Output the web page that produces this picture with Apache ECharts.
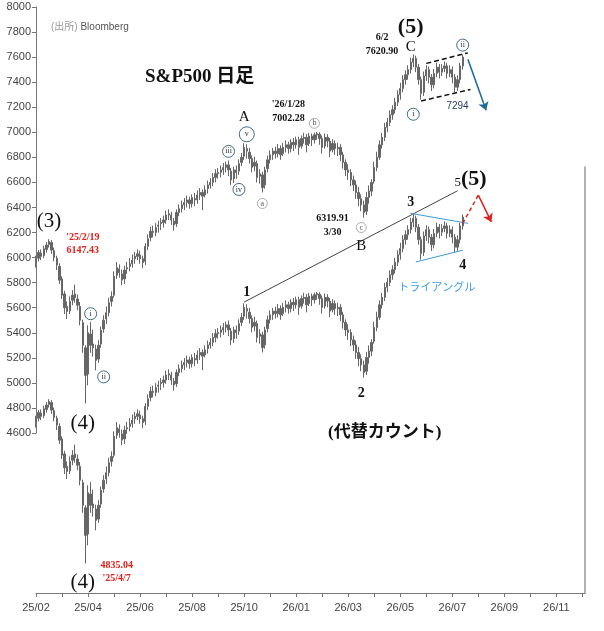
<!DOCTYPE html>
<html>
<head>
<meta charset="utf-8">
<script src="https://cdn.jsdelivr.net/npm/echarts@6/dist/echarts.min.js"></script>
<style>html,body{margin:0;padding:0;background:#fff}#c{width:604px;height:631px}</style>
</head>
<body>
<div id="c"></div>
<script>
// x-axis tick labels (every 2 month-ticks) and slot layout: 10 slots per month tick
const tickLabels = ["25/02","25/04","25/06","25/08","25/10","26/01","26/03","26/05","26/07","26/09","26/11"];
const slotsPerTick = 10;
const slotCount = 212;

// y-axis tick labels
const yTicks = [4600,4800,5000,5200,5400,5600,5800,6000,6200,6400,6600,6800,7000,7200,7400,7600,7800,8000];

// S&P500 candles [open, close, low, high], one per slot
const candles = [
[5960,5990,5920,6015],[5995,6040,5970,6060],[6035,6010,5980,6065],[6015,6070,5995,6095],[6065,6100,6040,6125],
[6105,6130,6080,6147],[6120,6060,6030,6140],[6055,6000,5970,6080],[5995,5940,5900,6015],[5930,5820,5790,5955],
[5830,5700,5670,5850],[5710,5600,5550,5735],[5610,5570,5510,5650],[5575,5650,5550,5690],[5660,5700,5620,5740],
[5710,5680,5640,5785],[5670,5620,5580,5705],[5610,5500,5460,5645],[5480,5300,5240,5505],[5280,5060,4835,5300],
[5070,5400,4980,5460],[5390,5300,5240,5485],[5310,5280,5210,5425],[5270,5180,5100,5305],[5190,5300,5160,5340],
[5310,5420,5280,5450],[5430,5500,5400,5540],[5510,5560,5470,5610],[5560,5640,5530,5680],[5650,5690,5610,5730],
[5700,5850,5680,5890],[5860,5920,5830,5965],[5910,5880,5840,5945],[5870,5820,5780,5905],[5830,5900,5790,5935],
[5910,5920,5870,5965],[5930,5950,5890,5995],[5950,5980,5920,6025],[5990,6010,5950,6045],[6010,6030,5980,6065],
[6020,5990,5950,6055],[5990,5960,5915,6015],[5970,6090,5940,6115],[6090,6150,6060,6185],[6160,6210,6130,6245],
[6210,6200,6160,6255],[6200,6240,6170,6275],[6250,6260,6200,6295],[6270,6280,6220,6315],[6280,6300,6240,6335],
[6300,6340,6270,6375],[6340,6350,6300,6385],[6340,6300,6260,6365],[6290,6260,6215,6315],[6270,6360,6245,6385],
[6360,6390,6330,6425],[6390,6420,6360,6455],[6420,6440,6380,6475],[6440,6460,6400,6495],[6460,6430,6390,6485],
[6430,6480,6400,6505],[6470,6460,6410,6515],[6460,6500,6430,6535],[6500,6520,6460,6555],[6520,6490,6380,6545],
[6500,6540,6480,6575],[6550,6580,6510,6615],[6580,6600,6550,6635],[6600,6640,6570,6675],[6640,6670,6600,6705],
[6670,6680,6630,6715],[6680,6700,6640,6735],[6700,6720,6660,6755],[6720,6740,6680,6765],[6740,6700,6650,6775],
[6690,6620,6580,6715],[6630,6700,6595,6725],[6700,6680,6630,6735],[6690,6750,6660,6785],[6760,6800,6730,6835],
[6810,6880,6780,6912],[6870,6850,6790,6905],[6840,6790,6750,6875],[6790,6720,6680,6815],[6730,6760,6690,6805],
[6750,6640,6600,6775],[6650,6670,6590,6705],[6660,6560,6520,6685],[6580,6700,6550,6725],[6710,6780,6680,6815],
[6780,6820,6750,6855],[6820,6850,6780,6875],[6850,6830,6790,6885],[6830,6870,6800,6905],[6870,6820,6780,6895],
[6830,6880,6810,6915],[6880,6900,6840,6935],[6900,6870,6830,6925],[6870,6920,6840,6945],[6920,6900,6850,6955],
[6900,6940,6870,6965],[6940,6880,6820,6965],[6890,6950,6870,6975],[6950,6960,6910,6995],[6960,6900,6840,6985],
[6910,6970,6890,6995],[6970,6940,6890,6990],[6940,6980,6910,6998],[6980,6990,6940,7002],[6985,6950,6900,7000],
[6950,6880,6830,6975],[6890,6960,6870,6990],[6960,6930,6880,6985],[6930,6850,6800,6955],[6860,6910,6840,6945],
[6910,6870,6820,6935],[6870,6880,6810,6915],[6880,6820,6770,6905],[6820,6760,6710,6845],[6760,6700,6650,6785],
[6700,6680,6620,6745],[6680,6620,6570,6705],[6620,6580,6530,6655],[6580,6520,6470,6615],[6520,6470,6410,6565],
[6470,6420,6370,6505],[6420,6360,6320,6455],[6370,6480,6340,6525],[6480,6530,6430,6575],[6530,6600,6490,6625],
[6610,6720,6590,6765],[6720,6800,6690,6845],[6800,6900,6780,6935],[6900,6960,6870,6995],[6960,7040,6930,7075],
[7040,7080,7000,7115],[7080,7140,7050,7175],[7140,7180,7100,7215],[7180,7240,7150,7275],[7240,7300,7210,7335],
[7300,7350,7260,7395],[7350,7420,7320,7455],[7420,7460,7380,7495],[7460,7500,7420,7535],[7500,7560,7470,7595],
[7560,7590,7520,7621],[7590,7520,7480,7612],[7520,7420,7380,7545],[7420,7310,7260,7445],[7320,7450,7290,7485],
[7450,7500,7410,7535],[7500,7440,7390,7525],[7440,7380,7330,7465],[7380,7470,7350,7505],[7470,7520,7440,7555],
[7520,7480,7430,7545],[7480,7510,7450,7545],[7510,7530,7480,7565],[7530,7470,7430,7555],[7470,7500,7440,7535],
[7500,7440,7390,7525],[7440,7360,7320,7465],[7360,7420,7330,7455],[7420,7530,7390,7555],[7530,7600,7500,7620]
];

const SERIF = "'Liberation Serif','DejaVu Serif','Noto Sans CJK JP',serif";
const SANS = "'Liberation Sans','DejaVu Sans','Noto Sans CJK JP',sans-serif";
const GRAY = '#666666';

const slots = Array.from({length: slotCount}, (_, i) => String(i));

function txt(x, y, text, style) {
  return {coord: [x, y], symbol: 'circle', symbolSize: 1, itemStyle: {color: 'rgba(0,0,0,0)'},
    label: Object.assign({show: true, position: 'inside', formatter: text, color: '#111', fontFamily: SERIF, fontSize: 14, align: 'center'}, style || {})};
}
function circ(x, y, text, size) {
  return {coord: [x, y], symbol: 'circle', symbolSize: size || 12,
    itemStyle: {color: '#fff', borderColor: '#3e6d86', borderWidth: 1},
    label: {show: true, position: 'inside', formatter: text, color: '#333', fontFamily: SERIF, fontSize: 8}};
}
function gcirc(x, y, text) {
  return {coord: [x, y], symbol: 'circle', symbolSize: 10,
    itemStyle: {color: '#fff', borderColor: '#aaa', borderWidth: 1},
    label: {show: true, position: 'inside', formatter: text, color: '#555', fontFamily: SERIF, fontSize: 8}};
}
function seg(a, b, style, arrow) {
  return [{coord: a, symbol: 'none', lineStyle: style}, {coord: b, symbol: arrow ? 'arrow' : 'none', symbolSize: arrow ? 8 : 0, lineStyle: style}];
}

const red = '#e0201b';
const upperMarks = [
  txt(5, 6288, '(3)', {fontSize: 21}),
  txt(18, 6112, "'25/2/19\n6147.43", {fontSize: 10, color: red, fontWeight: 'bold', lineHeight: 13}),
  txt(18, 4672, '(4)', {fontSize: 21}),
  circ(21, 5552, 'i'), circ(26, 5048, 'ii'), circ(74, 6848, 'iii'), circ(78, 6544, 'iv'), circ(81, 6984, 'v', 15),
  txt(80, 7120, 'A', {fontSize: 15}),
  gcirc(87, 6432, 'a'),
  txt(97, 7168, "'26/1/28\n7002.28", {fontSize: 10, lineHeight: 14, fontWeight: 'bold'}),
  gcirc(107, 7072, 'b'),
  txt(114, 6256, '6319.91\n3/30', {fontSize: 10, lineHeight: 14, fontWeight: 'bold'}),
  gcirc(125, 6240, 'c'),
  txt(125, 6088, 'B', {fontSize: 15}),
  txt(133, 7701, '6/2\n7620.90', {fontSize: 10, lineHeight: 14, fontWeight: 'bold'}),
  txt(144, 7840, '(5)', {fontSize: 22, fontWeight: 'bold'}),
  txt(144, 7682, 'C', {fontSize: 15}),
  circ(145, 7144, 'i'), circ(164, 7696, 'ii'),
  txt(162, 7208, '7294', {fontSize: 10, fontFamily: SANS, color: '#1e3a5f'})
];
const upperLines = [
  seg([150, 7550], [166, 7634], {color: '#111', width: 1.5, type: [5, 3]}),
  seg([148, 7250], [167, 7342], {color: '#111', width: 1.5, type: [5, 3]}),
  seg([166, 7582], [173, 7176], {color: '#1d6b98', width: 1.5, type: 'solid'}, true)
];
const lowerMarks = [
  txt(81, 7002, '1', {fontSize: 14, fontWeight: 'bold'}),
  txt(125, 6190, '2', {fontSize: 14, fontWeight: 'bold'}),
  txt(144, 7720, '3', {fontSize: 14, fontWeight: 'bold'}),
  txt(164, 7216, '4', {fontSize: 14, fontWeight: 'bold'}),
  txt(167, 7900, '{s|5}{b|(5)}', {rich: {s: {fontSize: 13, fontFamily: SERIF, color: '#111', padding: [6, 0, 0, 0]}, b: {fontSize: 22, fontWeight: 'bold', fontFamily: SERIF, color: '#111'}}}),
  txt(154, 7032, 'トライアングル', {fontSize: 11, fontFamily: SANS, color: '#3fa0e0'}),
  txt(134, 5880, '(代替カウント)', {fontSize: 17, fontWeight: 'bold'}),
  txt(18, 4680, '(4)', {fontSize: 21}),
  txt(31, 4768, "4835.04\n'25/4/7", {fontSize: 10, color: red, fontWeight: 'bold', lineHeight: 13})
];
const lowerLines = [
  seg([80, 6922], [162, 7810], {color: '#444', width: 1, type: 'solid'}),
  seg([144, 7630], [166, 7550], {color: '#3a9ad9', width: 1, type: 'solid'}),
  seg([146, 7242], [164, 7336], {color: '#3a9ad9', width: 1, type: 'solid'}),
  seg([164, 7550], [170, 7776], {color: red, width: 1.5, type: [4, 3]}),
  seg([170, 7776], [175, 7562], {color: red, width: 1.5, type: 'solid'}, true)
];

const candleStyle = {color: GRAY, color0: GRAY, borderColor: GRAY, borderColor0: GRAY, borderWidth: 1};

const option = {
  animation: false,
  backgroundColor: '#fff',
  title: [
    {text: 'S&P500 日足', left: 140, top: 63, textStyle: {fontFamily: SERIF, fontSize: 19, fontWeight: 'bold', color: '#111'}},
    {text: '{a|(出所)} Bloomberg', left: 46, top: 17, textStyle: {fontFamily: SANS, fontSize: 10, color: '#555', fontWeight: 'normal', rich: {a: {fontFamily: SANS, fontSize: 10, color: '#999'}}}}
  ],
  grid: [
    {left: 36, right: 19, top: 7, height: 426},
    {left: 36, right: 19, top: 167, height: 426}
  ],
  xAxis: [
    {type: 'category', gridIndex: 0, data: slots, boundaryGap: false, show: false},
    {type: 'category', gridIndex: 1, data: slots, boundaryGap: false,
      axisLine: {lineStyle: {color: '#777', width: 1}},
      axisTick: {show: true, length: 4, interval: (i) => i % slotsPerTick === 0, lineStyle: {color: '#777'}},
      axisLabel: {interval: (i) => i % (slotsPerTick * 2) === 0, formatter: (v, i) => tickLabels[i / (slotsPerTick * 2)] || '',
        color: '#444', fontFamily: SANS, fontSize: 11, margin: 9},
      splitLine: {show: false}}
  ],
  yAxis: [
    {type: 'value', gridIndex: 0, min: 4600, max: 8000, interval: 200, position: 'left',
      axisLine: {show: true, lineStyle: {color: '#777'}},
      axisTick: {show: true, length: 4, lineStyle: {color: '#777'}},
      axisLabel: {color: '#444', fontFamily: SANS, fontSize: 11, margin: 5,
        formatter: (v) => yTicks.indexOf(v) >= 0 ? String(v) : ''},
      splitLine: {show: false}},
    {type: 'value', gridIndex: 1, min: 4600, max: 8000, position: 'right',
      axisLine: {show: true, lineStyle: {color: '#999', width: 1.5}},
      axisTick: {show: false}, axisLabel: {show: false}, splitLine: {show: false}}
  ],
  series: [
    {type: 'candlestick', xAxisIndex: 0, yAxisIndex: 0, data: candles, barWidth: 1.8, itemStyle: candleStyle, clip: false, silent: true,
      markPoint: {silent: true, data: upperMarks},
      markLine: {silent: true, symbol: ['none', 'none'], label: {show: false}, data: upperLines}},
    {type: 'candlestick', xAxisIndex: 1, yAxisIndex: 1, data: candles, barWidth: 1.8, itemStyle: candleStyle, clip: false, silent: true,
      markPoint: {silent: true, data: lowerMarks},
      markLine: {silent: true, symbol: ['none', 'none'], label: {show: false}, data: lowerLines}}
  ]
};

const chart = echarts.init(document.getElementById('c'), null, {renderer: 'canvas'});
chart.setOption(option);
</script>
</body>
</html>
